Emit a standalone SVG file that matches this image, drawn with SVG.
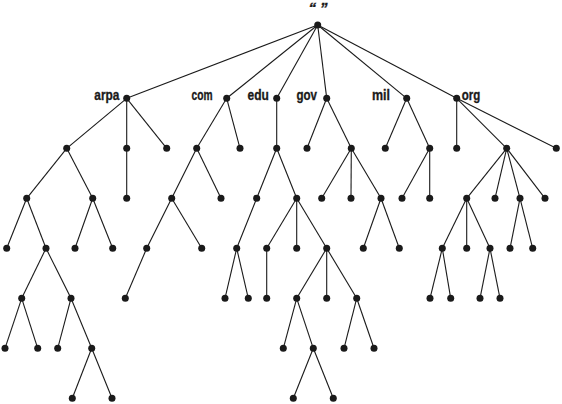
<svg xmlns="http://www.w3.org/2000/svg" width="562" height="404" viewBox="0 0 562 404">
<style>
.e line{stroke:#1a1a1a;stroke-width:1.1;fill:none}
.n{fill:#1a1a1a}
.t{font-family:"Liberation Sans",Arial,sans-serif;font-weight:bold;font-size:15px;fill:#1a1a1a;stroke:#1a1a1a;stroke-width:0.35}
</style>
<rect width="562" height="404" fill="#fff"/>
<g id="connectors" class="e">
<line x1="317.7" y1="25" x2="126.7" y2="98.3"/>
<line x1="317.7" y1="25" x2="226.7" y2="98.3"/>
<line x1="317.7" y1="25" x2="276.7" y2="98.3"/>
<line x1="317.7" y1="25" x2="326.7" y2="98.3"/>
<line x1="317.7" y1="25" x2="406.7" y2="98.3"/>
<line x1="317.7" y1="25" x2="456.7" y2="98.3"/>
<line x1="126.7" y1="98.3" x2="66.7" y2="148.3"/>
<line x1="126.7" y1="98.3" x2="126.7" y2="148.3"/>
<line x1="126.7" y1="98.3" x2="166.7" y2="148.3"/>
<line x1="66.7" y1="148.3" x2="26.7" y2="198.3"/>
<line x1="66.7" y1="148.3" x2="92.7" y2="198.3"/>
<line x1="126.7" y1="148.3" x2="126.7" y2="198.3"/>
<line x1="26.7" y1="198.3" x2="6.7" y2="248.3"/>
<line x1="26.7" y1="198.3" x2="46" y2="248.3"/>
<line x1="92.7" y1="198.3" x2="75" y2="248.3"/>
<line x1="92.7" y1="198.3" x2="112.7" y2="248.3"/>
<line x1="46" y1="248.3" x2="21.7" y2="298.3"/>
<line x1="46" y1="248.3" x2="71" y2="298.3"/>
<line x1="21.7" y1="298.3" x2="5" y2="348.3"/>
<line x1="21.7" y1="298.3" x2="37.7" y2="348.3"/>
<line x1="71" y1="298.3" x2="57.7" y2="348.3"/>
<line x1="71" y1="298.3" x2="91.7" y2="348.3"/>
<line x1="91.7" y1="348.3" x2="72.3" y2="398.3"/>
<line x1="91.7" y1="348.3" x2="112" y2="398.3"/>
<line x1="226.7" y1="98.3" x2="196.7" y2="148.3"/>
<line x1="226.7" y1="98.3" x2="240" y2="148.3"/>
<line x1="196.7" y1="148.3" x2="171.7" y2="198.3"/>
<line x1="196.7" y1="148.3" x2="221" y2="198.3"/>
<line x1="171.7" y1="198.3" x2="146.7" y2="248.3"/>
<line x1="171.7" y1="198.3" x2="201.7" y2="248.3"/>
<line x1="146.7" y1="248.3" x2="125.3" y2="298.3"/>
<line x1="276.7" y1="98.3" x2="276.7" y2="148.3"/>
<line x1="276.7" y1="148.3" x2="256.7" y2="198.3"/>
<line x1="276.7" y1="148.3" x2="296.7" y2="198.3"/>
<line x1="256.7" y1="198.3" x2="236.7" y2="248.3"/>
<line x1="236.7" y1="248.3" x2="225" y2="298.3"/>
<line x1="236.7" y1="248.3" x2="248.3" y2="298.3"/>
<line x1="296.7" y1="198.3" x2="266.7" y2="248.3"/>
<line x1="296.7" y1="198.3" x2="296.7" y2="248.3"/>
<line x1="296.7" y1="198.3" x2="326.7" y2="248.3"/>
<line x1="266.7" y1="248.3" x2="266.7" y2="298.3"/>
<line x1="326.7" y1="248.3" x2="296.7" y2="298.3"/>
<line x1="326.7" y1="248.3" x2="326.7" y2="298.3"/>
<line x1="326.7" y1="248.3" x2="356.7" y2="298.3"/>
<line x1="296.7" y1="298.3" x2="283.3" y2="348.3"/>
<line x1="296.7" y1="298.3" x2="313.3" y2="348.3"/>
<line x1="313.3" y1="348.3" x2="293.3" y2="398.3"/>
<line x1="313.3" y1="348.3" x2="333.3" y2="398.3"/>
<line x1="356.7" y1="298.3" x2="344" y2="348.3"/>
<line x1="356.7" y1="298.3" x2="374" y2="348.3"/>
<line x1="326.7" y1="98.3" x2="307" y2="148.3"/>
<line x1="326.7" y1="98.3" x2="351.3" y2="148.3"/>
<line x1="351.3" y1="148.3" x2="321.7" y2="198.3"/>
<line x1="351.3" y1="148.3" x2="351" y2="198.3"/>
<line x1="351.3" y1="148.3" x2="381" y2="198.3"/>
<line x1="381" y1="198.3" x2="363.3" y2="248.3"/>
<line x1="381" y1="198.3" x2="399.3" y2="248.3"/>
<line x1="406.7" y1="98.3" x2="385.3" y2="148.3"/>
<line x1="406.7" y1="98.3" x2="429.7" y2="148.3"/>
<line x1="429.7" y1="148.3" x2="402" y2="198.3"/>
<line x1="429.7" y1="148.3" x2="429.7" y2="198.3"/>
<line x1="456.7" y1="98.3" x2="456.7" y2="148.3"/>
<line x1="456.7" y1="98.3" x2="506.7" y2="148.3"/>
<line x1="456.7" y1="98.3" x2="556.3" y2="148.3"/>
<line x1="506.7" y1="148.3" x2="466.7" y2="198.3"/>
<line x1="506.7" y1="148.3" x2="495" y2="198.3"/>
<line x1="506.7" y1="148.3" x2="520" y2="198.3"/>
<line x1="506.7" y1="148.3" x2="545" y2="198.3"/>
<line x1="466.7" y1="198.3" x2="442.3" y2="248.3"/>
<line x1="466.7" y1="198.3" x2="466.7" y2="248.3"/>
<line x1="466.7" y1="198.3" x2="490" y2="248.3"/>
<line x1="442.3" y1="248.3" x2="430" y2="298.3"/>
<line x1="442.3" y1="248.3" x2="450.7" y2="298.3"/>
<line x1="490" y1="248.3" x2="480" y2="298.3"/>
<line x1="490" y1="248.3" x2="500" y2="298.3"/>
<line x1="520" y1="198.3" x2="510" y2="248.3"/>
<line x1="520" y1="198.3" x2="532.7" y2="248.3"/>
</g>
<g id="root"><circle class="n" cx="317.7" cy="25" r="3.5"/><text class="t" x="318" y="13" text-anchor="middle" font-style="italic" font-size="13" stroke-width="0.2">“ ”</text></g>
<g id="arpa"><circle class="n" cx="126.7" cy="98.3" r="3.5"/><text class="t" x="94.3" y="99.5" textLength="25" lengthAdjust="spacingAndGlyphs">arpa</text></g>
<g id="com"><circle class="n" cx="226.7" cy="98.3" r="3.5"/><text class="t" x="191.5" y="99.5" textLength="21" lengthAdjust="spacingAndGlyphs">com</text></g>
<g id="edu"><circle class="n" cx="276.7" cy="98.3" r="3.5"/><text class="t" x="247.5" y="99.5" textLength="21.3" lengthAdjust="spacingAndGlyphs">edu</text></g>
<g id="gov"><circle class="n" cx="326.7" cy="98.3" r="3.5"/><text class="t" x="296.5" y="99.5" textLength="20.5" lengthAdjust="spacingAndGlyphs">gov</text></g>
<g id="mil"><circle class="n" cx="406.7" cy="98.3" r="3.5"/><text class="t" x="372" y="99.5" textLength="18" lengthAdjust="spacingAndGlyphs">mil</text></g>
<g id="org"><circle class="n" cx="456.7" cy="98.3" r="3.5"/><text class="t" x="461.7" y="99.5" textLength="18.5" lengthAdjust="spacingAndGlyphs">org</text></g>
<g id="leaves" class="n">
<circle cx="66.7" cy="148.3" r="3.5"/><circle cx="126.7" cy="148.3" r="3.5"/><circle cx="166.7" cy="148.3" r="3.5"/>
<circle cx="196.7" cy="148.3" r="3.5"/><circle cx="240" cy="148.3" r="3.5"/><circle cx="276.7" cy="148.3" r="3.5"/>
<circle cx="307" cy="148.3" r="3.5"/><circle cx="351.3" cy="148.3" r="3.5"/><circle cx="385.3" cy="148.3" r="3.5"/>
<circle cx="429.7" cy="148.3" r="3.5"/><circle cx="456.7" cy="148.3" r="3.5"/><circle cx="506.7" cy="148.3" r="3.5"/><circle cx="556.3" cy="148.3" r="3.5"/>
<circle cx="26.7" cy="198.3" r="3.5"/><circle cx="92.7" cy="198.3" r="3.5"/><circle cx="126.7" cy="198.3" r="3.5"/>
<circle cx="171.7" cy="198.3" r="3.5"/><circle cx="221" cy="198.3" r="3.5"/><circle cx="256.7" cy="198.3" r="3.5"/>
<circle cx="296.7" cy="198.3" r="3.5"/><circle cx="321.7" cy="198.3" r="3.5"/><circle cx="351" cy="198.3" r="3.5"/>
<circle cx="381" cy="198.3" r="3.5"/><circle cx="402" cy="198.3" r="3.5"/><circle cx="429.7" cy="198.3" r="3.5"/>
<circle cx="466.7" cy="198.3" r="3.5"/><circle cx="495" cy="198.3" r="3.5"/><circle cx="520" cy="198.3" r="3.5"/><circle cx="545" cy="198.3" r="3.5"/>
<circle cx="6.7" cy="248.3" r="3.5"/><circle cx="46" cy="248.3" r="3.5"/><circle cx="75" cy="248.3" r="3.5"/><circle cx="112.7" cy="248.3" r="3.5"/>
<circle cx="146.7" cy="248.3" r="3.5"/><circle cx="201.7" cy="248.3" r="3.5"/><circle cx="236.7" cy="248.3" r="3.5"/>
<circle cx="266.7" cy="248.3" r="3.5"/><circle cx="296.7" cy="248.3" r="3.5"/><circle cx="326.7" cy="248.3" r="3.5"/>
<circle cx="363.3" cy="248.3" r="3.5"/><circle cx="399.3" cy="248.3" r="3.5"/><circle cx="442.3" cy="248.3" r="3.5"/>
<circle cx="466.7" cy="248.3" r="3.5"/><circle cx="490" cy="248.3" r="3.5"/><circle cx="510" cy="248.3" r="3.5"/><circle cx="532.7" cy="248.3" r="3.5"/>
<circle cx="21.7" cy="298.3" r="3.5"/><circle cx="71" cy="298.3" r="3.5"/><circle cx="125.3" cy="298.3" r="3.5"/>
<circle cx="225" cy="298.3" r="3.5"/><circle cx="248.3" cy="298.3" r="3.5"/><circle cx="266.7" cy="298.3" r="3.5"/>
<circle cx="296.7" cy="298.3" r="3.5"/><circle cx="326.7" cy="298.3" r="3.5"/><circle cx="356.7" cy="298.3" r="3.5"/>
<circle cx="430" cy="298.3" r="3.5"/><circle cx="450.7" cy="298.3" r="3.5"/><circle cx="480" cy="298.3" r="3.5"/><circle cx="500" cy="298.3" r="3.5"/>
<circle cx="5" cy="348.3" r="3.5"/><circle cx="37.7" cy="348.3" r="3.5"/><circle cx="57.7" cy="348.3" r="3.5"/><circle cx="91.7" cy="348.3" r="3.5"/>
<circle cx="283.3" cy="348.3" r="3.5"/><circle cx="313.3" cy="348.3" r="3.5"/><circle cx="344" cy="348.3" r="3.5"/><circle cx="374" cy="348.3" r="3.5"/>
<circle cx="72.3" cy="398.3" r="3.5"/><circle cx="112" cy="398.3" r="3.5"/><circle cx="293.3" cy="398.3" r="3.5"/><circle cx="333.3" cy="398.3" r="3.5"/>
</g>
</svg>
